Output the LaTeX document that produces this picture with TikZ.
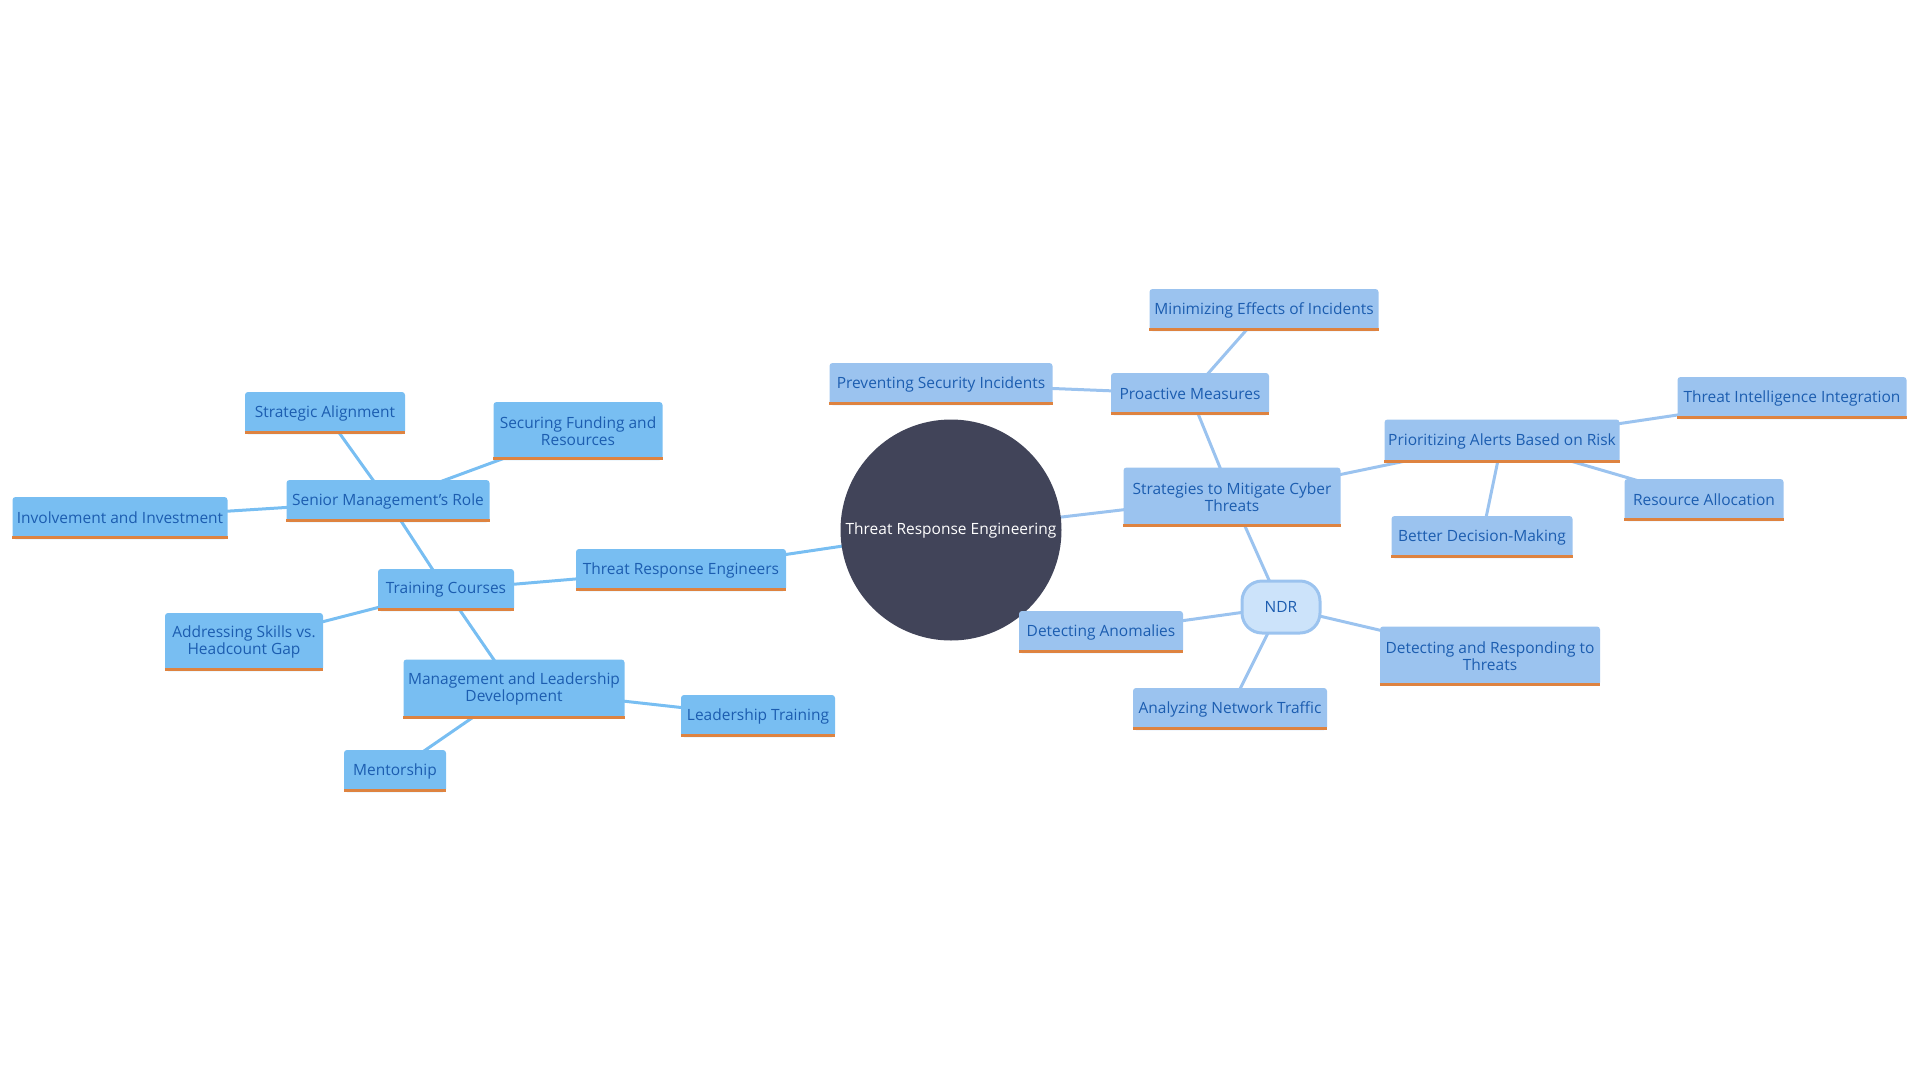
\documentclass[tikz,border=0pt]{standalone}
\usepackage{fontspec}
\setmainfont{Open Sans}
\usetikzlibrary{backgrounds}
\definecolor{hubfill}{HTML}{414459}
\definecolor{leftfill}{HTML}{78BEF2}
\definecolor{rightfill}{HTML}{9BC3EF}
\definecolor{ndrfill}{HTML}{CCE3FA}
\definecolor{labelblue}{HTML}{1C5DB0}
\definecolor{barorange}{HTML}{DE8340}
\tikzset{
  leaf/.style={rectangle, rounded corners=3, inner sep=0, text=labelblue, align=center,
    font=\fontsize{15.5}{16.5}\selectfont},
  leftleaf/.style={leaf, fill=leftfill},
  rightleaf/.style={leaf, fill=rightfill},
  hub/.style={circle, fill=hubfill, text=white, inner sep=0, minimum size=221,
    font=\fontsize{15.5}{16.5}\selectfont},
  ndrbox/.style={rectangle, rounded corners=20, draw=rightfill, line width=3, fill=ndrfill,
    text=labelblue, minimum width=78, minimum height=52, font=\fontsize{15.5}{16.5}\selectfont},
  leftlink/.style={draw=leftfill, line width=3},
  rightlink/.style={draw=rightfill, line width=3},
  bar/.style={draw=barorange, line width=3}
}
\begin{document}
\begin{tikzpicture}[x=1pt, y=1pt]
			%%%%% START %%%%%
			\useasboundingbox (0, 0) rectangle (1920, -1080);
			
			\node[hub] (core) at (951, -530) {Threat Response Engineering};
			
			% left side
			\node[leftleaf, minimum width=210, minimum height=42] (tre) at (681, -570) {Threat Response Engineers};
			\node[leftleaf, minimum width=136, minimum height=42] (train) at (446, -590) {Training Courses};
			\node[leftleaf, minimum width=203, minimum height=42] (senior) at (388, -501) {Senior Management's Role};
			\node[leftleaf, minimum width=160, minimum height=42] (strat) at (325, -413) {Strategic Alignment};
			\node[leftleaf, minimum width=169, minimum height=58] (fund) at (578, -431) {Securing Funding and\\Resources};
			\node[leftleaf, minimum width=215, minimum height=42] (involve) at (120, -518) {Involvement and Investment};
			\node[leftleaf, minimum width=158, minimum height=58] (skills) at (244, -642) {Addressing Skills vs.\\Headcount Gap};
			\node[leftleaf, minimum width=221, minimum height=59] (mld) at (514, -689) {Management and Leadership\\Development};
			\node[leftleaf, minimum width=154, minimum height=42] (leadtrain) at (758, -716) {Leadership Training};
			\node[leftleaf, minimum width=102, minimum height=42] (mentor) at (395, -771) {Mentorship};
			
			% right side
			\node[rightleaf, minimum width=217, minimum height=59] (mitig) at (1232, -497) {Strategies to Mitigate Cyber\\Threats};
			\node[rightleaf, minimum width=158, minimum height=42] (proact) at (1190, -394) {Proactive Measures};
			\node[rightleaf, minimum width=229, minimum height=42] (minim) at (1264, -310) {Minimizing Effects of Incidents};
			\node[rightleaf, minimum width=223, minimum height=42] (prevent) at (941, -384) {Preventing Security Incidents};
			\node[rightleaf, minimum width=235, minimum height=43] (prior) at (1502, -441) {Prioritizing Alerts Based on Risk};
			\node[rightleaf, minimum width=229, minimum height=42] (intel) at (1792, -398) {Threat Intelligence Integration};
			\node[rightleaf, minimum width=159, minimum height=42] (resalloc) at (1704, -500) {Resource Allocation};
			\node[rightleaf, minimum width=181, minimum height=42] (better) at (1482, -537) {Better Decision-Making};
			\node[ndrbox] (ndr) at (1281, -607) {NDR};
			\node[rightleaf, minimum width=164, minimum height=42] (anomal) at (1101, -632) {Detecting Anomalies};
			\node[rightleaf, minimum width=220, minimum height=59] (respond) at (1490, -656) {Detecting and Responding to\\Threats};
			\node[rightleaf, minimum width=194, minimum height=42] (traffic) at (1230, -709) {Analyzing Network Traffic};
			
			\foreach \n in {tre, train, senior, strat, fund, involve, skills, mld, leadtrain, mentor,
			  mitig, proact, minim, prevent, prior, intel, resalloc, better, anomal, respond, traffic}
			  \draw[bar] ([yshift=1.5]\n.south west) -- ([yshift=1.5]\n.south east);
			
			\begin{scope}[on background layer]
			\draw[leftlink] (core.center) -- (tre.center);
			\draw[leftlink] (tre.center) -- (train.center);
			\draw[leftlink] (train.center) -- (senior.center);
			\draw[leftlink] (senior.center) -- (strat.center);
			\draw[leftlink] (senior.center) -- (fund.center);
			\draw[leftlink] (senior.center) -- (involve.center);
			\draw[leftlink] (train.center) -- (skills.center);
			\draw[leftlink] (train.center) -- (mld.center);
			\draw[leftlink] (mld.center) -- (leadtrain.center);
			\draw[leftlink] (mld.center) -- (mentor.center);
			
			\draw[rightlink] (core.center) -- (mitig.center);
			\draw[rightlink] (mitig.center) -- (proact.center);
			\draw[rightlink] (proact.center) -- (minim.center);
			\draw[rightlink] (proact.center) -- (prevent.center);
			\draw[rightlink] (mitig.center) -- (prior.center);
			\draw[rightlink] (prior.center) -- (intel.center);
			\draw[rightlink] (prior.center) -- (resalloc.center);
			\draw[rightlink] (prior.center) -- (better.center);
			\draw[rightlink] (mitig.center) -- (ndr.center);
			\draw[rightlink] (ndr.center) -- (anomal.center);
			\draw[rightlink] (ndr.center) -- (respond.center);
			\draw[rightlink] (ndr.center) -- (traffic.center);
			\end{scope}
			
			%%%%% END %%%%%
\end{tikzpicture}
\end{document}
